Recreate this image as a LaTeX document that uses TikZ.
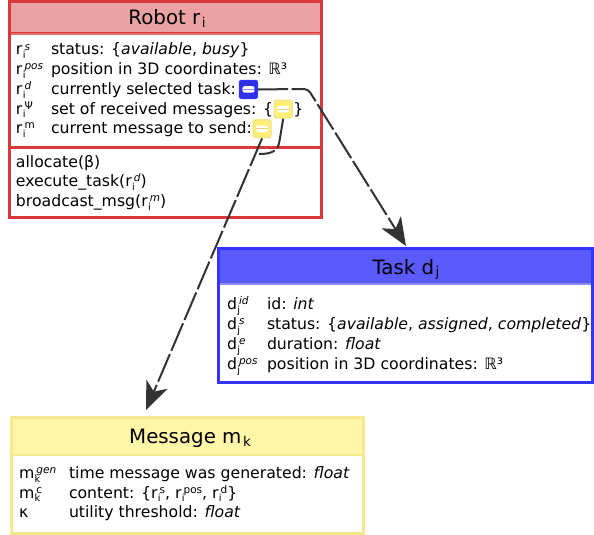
\documentclass[tikz,border=0pt]{standalone}
\usepackage{fontspec}
\setmainfont{DejaVu Sans}
\usetikzlibrary{arrows.meta}
\definecolor{robred}{HTML}{D83A3A}
\definecolor{robredlt}{HTML}{E27070}
\definecolor{robfill}{HTML}{EBA2A2}
\definecolor{taskblue}{HTML}{3434FF}
\definecolor{taskfill}{HTML}{5A5AFF}
\definecolor{tasklt}{HTML}{8A8AFF}
\definecolor{msgline}{HTML}{F6E88E}
\definecolor{msgfill}{HTML}{FFF6A8}
\definecolor{iconyel}{HTML}{FFEE77}
\definecolor{iconyelb}{HTML}{F2E48A}
\definecolor{connc}{HTML}{333333}
\newcommand\supsub[3]{#1\kern0.3pt\makebox[0pt][l]{\raisebox{-3.8pt}{\fontsize{9.8}{9.8}\selectfont #2}}\kern1.8pt\raisebox{4.9pt}{\fontsize{10.5}{10.5}\selectfont #3}}
\newcommand\titlesub[2]{#1\kern1.5pt\raisebox{-2.8pt}{\fontsize{13.5}{13.5}\selectfont #2}}
\tikzset{
  txt/.style={inner sep=0, outer sep=0, anchor=base west, font=\fontsize{15.7}{19}\selectfont},
  ttl/.style={inner sep=0, outer sep=0, anchor=base, font=\fontsize{19.8}{22}\selectfont},
  conn/.style={draw=connc, line width=2, dash pattern=on 30pt off 3.5pt},
  arrowtip/.style={-{Stealth[length=28pt,width=23pt,inset=8pt,fill=connc]}},
  icon/.style={rectangle, rounded corners=2, minimum width=18, minimum height=18, inner sep=0, line width=1.2,
    path picture={
      \fill[white] ([shift={(-6,-3.2)}]path picture bounding box.center) rectangle ([shift={(6,3.2)}]path picture bounding box.center);
      \draw[#1, line width=0.9] ([shift={(-6,0)}]path picture bounding box.center) -- ([shift={(6,0)}]path picture bounding box.center);
    }},
  blueicon/.style={icon=tasklt, fill=taskblue!90!black, draw=taskblue},
  yelicon/.style={icon=iconyelb!80!gray, fill=iconyel, draw=iconyelb},
}
\begin{document}
\begin{tikzpicture}[x=1pt,y=-1pt]
\useasboundingbox (0,0) rectangle (594,535);
% ---------------- Robot box
\fill[robfill] (9,1.5) rectangle (321,34);
\draw[robredlt, line width=2.5] (9,34) rectangle (321,147);
\draw[robred, line width=3] (9,147) rectangle (321,217);
\node[draw=robred, line width=3, minimum width=312, minimum height=32.5, inner sep=0] (robottitlebox) at (165,17.5) {};
\node[draw=robred, line width=3, minimum width=312, minimum height=216, inner sep=0] (robot) at (165,109) {};
\draw[robredlt, line width=2.5] (10.5,34) -- (319.5,34);
\draw[robred, line width=3] (9,147) -- (321,147);
\node[ttl] (robottitle) at (167,25) {Robot \titlesub{r}{i}};
\node[txt] (rs) at (16,55) {\supsub{r}{i}{\textit{s}}};
\node[txt] (rsT) at (51,55) {status: \{\textit{available}, \textit{busy}\}};
\node[txt] (rpos) at (16,74.7) {\supsub{r}{i}{\textit{pos}}};
\node[txt] (rposT) at (51,74.7) {position in 3D coordinates: ℝ³};
\node[txt] (rd) at (16,94.4) {\supsub{r}{i}{\textit{d}}};
\node[txt] (rdT) at (51,94.4) {currently selected task:};
\node[txt] (rpsi) at (16,114.1) {\supsub{r}{i}{Ψ}};
\node[txt] (rpsiT) at (51,114.1) {set of received messages: \{};
\node[txt] (rm) at (16,133.8) {\supsub{r}{i}{m}};
\node[txt] (rmT) at (51,133.8) {current message to send:};
\node[blueicon, anchor=west] (iconD) at ([xshift=3pt,yshift=5pt]rdT.base east) {};
\node[yelicon, anchor=west] (iconPsi) at ([xshift=0.5pt,yshift=5pt]rpsiT.base east) {};
\node[txt, anchor=base west] (psiclose) at ([xshift=0.5pt]iconPsi.east |- rpsiT.base) {\}};
\node[yelicon, anchor=west] (iconM) at ([xshift=0.5pt,yshift=5pt]rmT.base east) {};
\node[txt] (m1) at (16,167) {allocate(β)};
\node[txt] (m2) at (16,186.7) {execute\_task(\supsub{r}{i}{\textit{d}})};
\node[txt] (m3) at (16,206.3) {broadcast\_msg(\supsub{r}{i}{\textit{m}})};
% ---------------- Task box
\fill[taskfill] (218,248) rectangle (592,284);
\draw[tasklt, line width=2] (218,284) -- (592,284);
\node[draw=taskblue, line width=3, minimum width=374, minimum height=134, inner sep=0] (task) at (405,315) {};
\node[ttl] (tasktitle) at (406,274) {Task \titlesub{d}{j}};
\node[txt] (did) at (227,309.3) {\supsub{d}{j}{\textit{id}}};
\node[txt] (didT) at (267,309.3) {id: \textit{int}};
\node[txt] (ds) at (227,329.3) {\supsub{d}{j}{\textit{s}}};
\node[txt] (dsT) at (267,329.3) {status: \{\textit{available}, \textit{assigned}, \textit{completed}\}};
\node[txt] (de) at (227,349.3) {\supsub{d}{j}{\textit{e}}};
\node[txt] (deT) at (267,349.3) {duration: \textit{float}};
\node[txt] (dpos) at (227,369.3) {\supsub{d}{j}{\textit{pos}}};
\node[txt] (dposT) at (267,369.3) {position in 3D coordinates: ℝ³};
% ---------------- Message box
\fill[msgfill] (11,417) rectangle (363,455);
\draw[msgline, line width=2] (11,455) -- (363,455);
\node[draw=msgline, line width=3, minimum width=352, minimum height=116, inner sep=0] (msg) at (187,475) {};
\node[ttl] (msgtitle) at (190,443.3) {Message \titlesub{m}{k}};
\node[txt] (mgen) at (19,478.3) {\supsub{m}{k}{\textit{gen}}};
\node[txt] (mgenT) at (69,478.3) {time message was generated: \textit{float}};
\node[txt] (mc) at (19,498) {\supsub{m}{k}{c}};
\node[txt] (mcT) at (69,498) {content: \{\supsub{r}{i}{s}, \supsub{r}{i}{pos}, \supsub{r}{i}{d}\}};
\node[txt] (mk) at (19,517.7) {κ};
\node[txt] (mkT) at (69,517.7) {utility threshold: \textit{float}};
% ---------------- Connectors
\coordinate (bend) at (308,89);
\coordinate (tasktip) at (406,246);
\coordinate (msgtip) at (146,410);
\coordinate (psiA) at (279.5,141);
\coordinate (psiB) at (259,154);
\draw[conn, arrowtip, rounded corners=4] (iconD.east) -- (bend) -- (tasktip);
\draw[conn, arrowtip] (iconM.south) -- (msgtip);
\draw[conn] (iconPsi.south) -- (psiA) .. controls (278,152) and (270,154) .. (psiB);
\end{tikzpicture}
\end{document}
